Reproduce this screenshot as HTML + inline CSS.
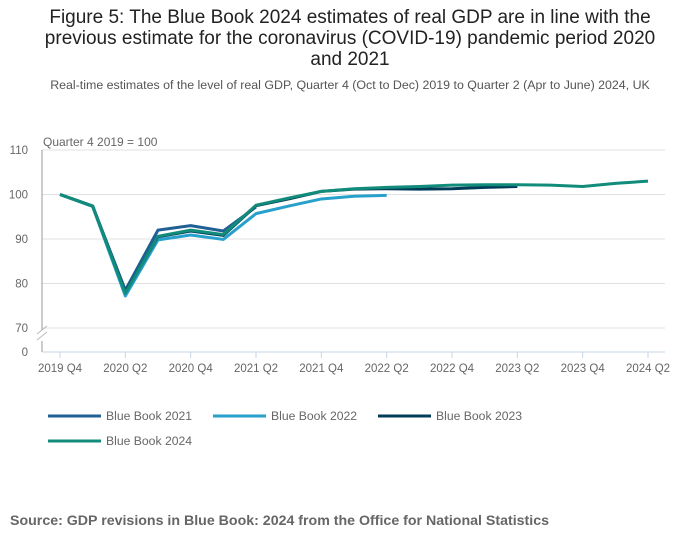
<!DOCTYPE html>
<html><head><meta charset="utf-8"><style>
body{margin:0;width:700px;height:549px;background:#fff;font-family:"Liberation Sans",sans-serif;overflow:hidden}
#title{position:absolute;left:0;top:7px;width:700px;text-align:center;font-size:19px;line-height:21px;color:#222;white-space:nowrap}
#sub{position:absolute;left:0;top:78px;width:700px;text-align:center;font-size:12.4px;color:#555;white-space:nowrap}
#src{position:absolute;left:10px;top:513px;font-size:14.2px;font-weight:bold;color:#666;white-space:nowrap}
svg{position:absolute;left:0;top:0}
</style></head><body>
<div id="title">Figure 5: The Blue Book 2024 estimates of real GDP are in line with the<br>previous estimate for the coronavirus (COVID-19) pandemic period 2020<br>and 2021</div>
<div id="sub">Real-time estimates of the level of real GDP, Quarter 4 (Oct to Dec) 2019 to Quarter 2 (Apr to June) 2024, UK</div>
<svg id="chart" width="700" height="549"></svg>
<div id="src">Source: GDP revisions in Blue Book: 2024 from the Office for National Statistics</div>
<script>
const quarters=["2019 Q4","2020 Q1","2020 Q2","2020 Q3","2020 Q4","2021 Q1","2021 Q2","2021 Q3","2021 Q4","2022 Q1","2022 Q2","2022 Q3","2022 Q4","2023 Q1","2023 Q2","2023 Q3","2023 Q4","2024 Q1","2024 Q2"];
const bb2021=[100,97.4,78.5,92,93,91.8,97.2];
const bb2022=[100,97.3,77.2,89.8,90.9,89.9,95.7,97.4,99,99.6,99.8];
const bb2023=[100,97.4,78,90.5,91.8,90.8,97.5,99,100.7,101.2,101.3,101.2,101.3,101.6,101.8];
const bb2024=[100,97.4,77.8,90.6,92,91,97.6,99.2,100.7,101.3,101.6,101.8,102.1,102.2,102.2,102.1,101.8,102.5,103];
const yTicks=[70,80,90,100,110];
const xTickLabels=["2019 Q4","2020 Q2","2020 Q4","2021 Q2","2021 Q4","2022 Q2","2022 Q4","2023 Q2","2023 Q4","2024 Q2"];
const seriesNames=["Blue Book 2021","Blue Book 2022","Blue Book 2023","Blue Book 2024"];
const seriesColors=["#206095","#27a0cc","#003c57","#118c7b"];
const NS="http://www.w3.org/2000/svg",svg=document.getElementById('chart');
const x=i=>60+i*(588/18);
const y=v=>328-(v-70)*4.45;
function mk(t,a,p){const e=document.createElementNS(NS,t);for(const k in a)e.setAttribute(k,a[k]);(p||svg).appendChild(e);return e;}
let e;
yTicks.forEach(v=>{e=mk('line',{x1:42,x2:665,y1:y(v),y2:y(v),stroke:'#e0e0e0'});

e=mk('text',{x:28,y:y(v)+4,'font-size':11.5,fill:'#666','text-anchor':'end'});e.textContent=v;
});
e=mk('text',{x:28,y:356,'font-size':11.5,fill:'#666','text-anchor':'end'});e.textContent='0';

e=mk('path',{d:'M42,150V330M42,341V352',stroke:'#999',fill:'none'});

e=mk('path',{d:'M37,334L47,326M37,340L47,332',stroke:'#bbb'});

e=mk('line',{x1:42,x2:665,y1:352,y2:352,stroke:'#c8d4e8'});

xTickLabels.forEach(l=>{const i=quarters.indexOf(l);
e=mk('line',{x1:x(i),x2:x(i),y1:352,y2:358,stroke:'#c8d4e8'});

e=mk('text',{x:x(i),y:372,'font-size':11.5,fill:'#666','text-anchor':'middle'});e.textContent=l;
});
e=mk('text',{x:43,y:146,'font-size':12,fill:'#666'});e.textContent='Quarter 4 2019 = 100';

[bb2021,bb2022,bb2023,bb2024].forEach((s,k)=>{
e=mk('polyline',{points:s.map((v,i)=>x(i)+','+y(v)).join(' '),fill:'none',stroke:seriesColors[k],'stroke-width':3,'stroke-linejoin':'round'});
});
const lp=[[48,416],[213,416],[378,416],[48,441]];
seriesNames.forEach((n,k)=>{const g=mk('g',{});

mk('line',{x1:lp[k][0],x2:lp[k][0]+53,y1:lp[k][1],y2:lp[k][1],stroke:seriesColors[k],'stroke-width':3},g);
const t=mk('text',{x:lp[k][0]+58,y:lp[k][1]+4,'font-size':12.2,fill:'#666'},g);t.textContent=n;});
</script>
</body></html>
